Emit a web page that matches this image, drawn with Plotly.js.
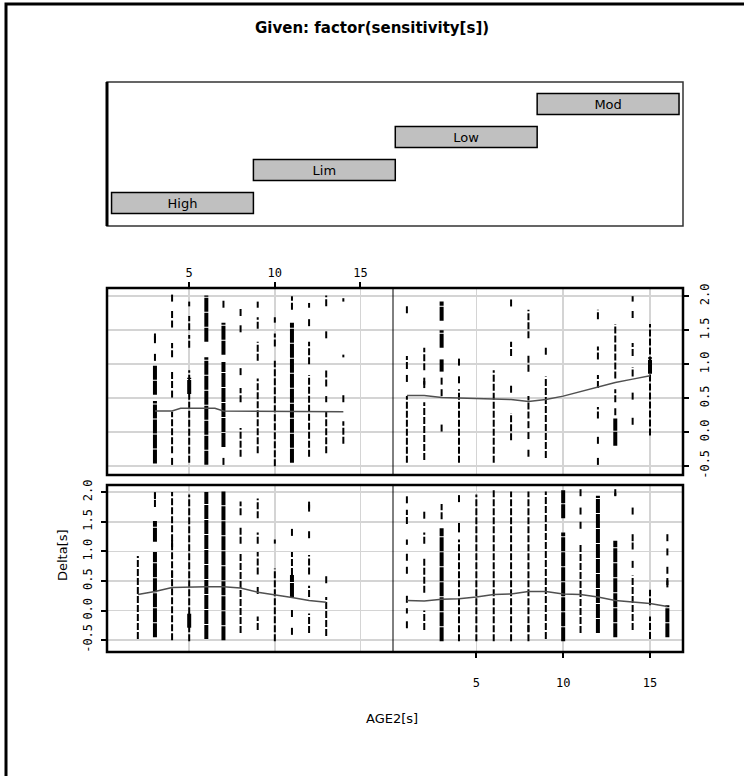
<!DOCTYPE html>
<html><head><meta charset="utf-8">
<script src="https://cdn.plot.ly/plotly-3.0.1.min.js"></script>
<style>html,body{margin:0;padding:0;background:#fff}#chart{width:744px;height:776px}</style>
</head><body><div id="chart"></div>
<script>
// ---------- data ----------
const givenLevels = ['High', 'Lim', 'Low', 'Mod'];
const givenLow  = [0.5, 1.5, 2.5, 3.5];
const givenHigh = [1.5, 2.5, 3.5, 4.5];

const xTicks = [5, 10, 15];
const yTicks = [-0.5, 0, 0.5, 1, 1.5, 2];
const yTickText = ['-0.5', '0.0', '0.5', '1.0', '1.5', '2.0'];

// runs of points: [AGE2, Delta from, Delta to]
const lowDense = [[3,0.55,0.98],[3,-0.46,0.46],[5,0.56,0.80],[6,1.33,2.01],[6,-0.48,1.10],[7,1.14,1.61],[7,-0.22,1.03],[11,-0.45,1.61]];
const lowThin = [[4,1.92,2.04],[4,1.10,1.31],[4,0.65,0.89],[4,-0.31,0.30],[5,1.85,1.92],[5,1.50,1.71],[5,1.24,1.43],[5,-0.45,0.91],
  [7,1.83,1.94],[8,0.44,0.65],[8,-0.36,0.06],[9,1.83,1.92],[9,1.52,1.69],[9,1.05,1.33],[9,-0.31,0.79],[10,1.61,1.69],[10,1.26,1.45],
  [10,-0.50,1.05],[11,1.80,2.0],[12,1.83,1.90],[12,1.00,1.33],[12,-0.36,0.84],[13,1.85,2.01],[13,1.38,1.50],[13,0.67,0.91],[13,0.44,0.53],
  [13,-0.31,0.30],[14,1.92,1.97],[14,1.10,1.14],[14,0.44,0.56],[14,-0.17,0.16]];
const lowPts = [[3,1.40],[3,1.36],[3,1.10],[4,1.73],[4,1.59],[4,0.56],[4,-0.43],[7,-0.43],[8,1.76],[8,1.52],[8,0.89],[12,1.61]];
const lowSmoothX = [3,4,4.5,5,6,6.5,7,8,9,10,11,12,13,14];
const lowSmoothY = [0.31,0.31,0.35,0.35,0.35,0.35,0.31,0.31,0.31,0.31,0.31,0.30,0.30,0.30];

const modDense = [[3,1.64,1.92],[3,1.24,1.50],[3,0.89,1.07],[13,-0.20,0.20],[15,0.86,1.10]];
const modThin = [[1,0.93,1.12],[1,-0.45,0.53],[2,0.91,1.24],[2,-0.41,0.44],[4,-0.45,0.63],[6,-0.45,0.91],[7,1.12,1.33],[7,0.58,0.70],
  [7,-0.12,0.28],[8,1.38,1.80],[8,0.89,1.14],[8,0.20,0.53],[9,-0.38,0.82],[12,1.66,1.80],[12,1.07,1.26],[12,0.65,0.84],[12,0.20,0.37],
  [13,0.79,1.59],[13,0.44,0.63],[14,1.92,2.0],[14,1.12,1.31],[14,0.82,0.96],[15,-0.05,1.59]];
const modPts = [[1,1.80],[1,0.79],[2,0.75],[2,0.70],[3,0.75],[3,0.58],[3,0.06],[4,1.03],[4,0.77],[7,1.90],[8,-0.31],[8,-0.05],[8,0.11],
  [9,1.19],[12,-0.12],[12,-0.43],[13,0.30],[14,1.73],[14,0.53],[14,0.16]];
const modSmoothX = [1,2,3,4,5,6,7,8,9,10,11,12,13,14,15];
const modSmoothY = [0.54,0.54,0.51,0.50,0.49,0.48,0.48,0.45,0.48,0.53,0.60,0.66,0.73,0.78,0.83];

const highDense = [[3,1.16,1.51],[3,-0.45,0.99],[5,-0.29,-0.05],[6,-0.48,2.0],[7,-0.50,2.01],[11,0.23,0.60]];
const highThin = [[2,-0.48,0.92],[3,1.75,1.99],[4,-0.50,2.0],[5,-0.52,1.96],[8,1.61,1.84],[8,1.13,1.42],[8,-0.38,0.99],[9,1.56,1.89],
  [9,1.13,1.32],[9,0.61,0.99],[9,0.28,0.42],[9,-0.33,-0.10],[10,1.13,1.20],[10,-0.52,0.71],[11,0.60,0.99],[11,-0.41,-0.29],
  [12,0.61,0.94],[12,0.23,0.42],[12,-0.38,-0.05],[13,-0.43,0.23]];
const highPts = [[3,1.94],[11,1.32],[11,-0.05],[12,1.78],[12,1.73],[12,1.28],[13,0.52],[4,1.13],[4,0.61]];
const highSmoothX = [2,3,4,5,6,7,8,9,10,11,12,13];
const highSmoothY = [0.27,0.32,0.39,0.40,0.40,0.40,0.38,0.31,0.27,0.22,0.17,0.14];

const limDense = [[3,-0.52,1.39],[10,1.56,2.03],[10,-0.52,1.32],[12,-0.38,1.94],[13,-0.45,1.18],[16,-0.45,0.09]];
const limThin = [[1,1.46,1.70],[1,1.11,1.20],[1,-0.05,0.04],[2,1.13,1.32],[2,0.30,0.90],[2,-0.33,0.0],[3,1.54,1.80],[4,1.32,1.39],
  [4,-0.52,1.20],[5,-0.52,1.96],[6,-0.52,2.04],[7,-0.52,2.01],[8,-0.52,2.01],[9,-0.48,2.01],[11,-0.38,1.13],[14,-0.33,0.59],
  [15,-0.48,-0.10],[15,0.09,0.35],[13,1.94,1.99]];
const limPts = [[1,1.87],[1,0.90],[1,0.68],[1,0.19],[1,-0.24],[2,1.61],[4,1.89],[4,1.42],[11,1.99],[11,1.68],[11,1.44],[13,1.99],
  [14,1.68],[14,1.23],[14,1.09],[14,0.78],[16,1.23],[16,0.99],[16,0.68],[16,0.49],[16,0.45],[8,-0.30]];
const limSmoothX = [1,2,3,4,5,6,7,8,9,10,11,12,13,14,15,16];
const limSmoothY = [0.17,0.16,0.19,0.20,0.23,0.27,0.28,0.32,0.32,0.28,0.27,0.23,0.17,0.14,0.12,0.07];

// ---------- layout helpers ----------
const W = 744, H = 776;
const px = v => v / W, py = v => 1 - v / H;
const xL = [px(107), px(393)], xR = [px(393), px(683)];
const yT = [py(475), py(288)], yB = [py(652), py(485)];

function runs(arr, xa, ya, width, dash) {
  const x = [], y = [];
  arr.forEach(r => { x.push(r[0], r[0], null); y.push(r[1], r[2], null); });
  return {type: 'scatter', mode: 'lines', x, y, xaxis: xa, yaxis: ya, hoverinfo: 'skip',
          line: {color: '#000', width: width, dash: dash || 'solid'}, showlegend: false};
}
function pts(arr, xa, ya) {
  return {type: 'scatter', mode: 'markers', x: arr.map(p => p[0]), y: arr.map(p => p[1]), xaxis: xa, yaxis: ya,
          marker: {symbol: 'line-ns', size: 5, line: {width: 2, color: '#000'}}, showlegend: false};
}
function smooth(sx, sy, xa, ya) {
  return {type: 'scatter', mode: 'lines', x: sx, y: sy, xaxis: xa, yaxis: ya,
          line: {color: '#505050', width: 1.5}, showlegend: false};
}
function panel(dense, thin, p, sx, sy, xa, ya) {
  return [runs(thin, xa, ya, 2, '7px,2px'), runs(dense, xa, ya, 4, '14px,1px'), pts(p, xa, ya), smooth(sx, sy, xa, ya)];
}

const traces = [].concat(
  panel(lowDense, lowThin, lowPts, lowSmoothX, lowSmoothY, 'x', 'y'),
  panel(modDense, modThin, modPts, modSmoothX, modSmoothY, 'x2', 'y2'),
  panel(highDense, highThin, highPts, highSmoothX, highSmoothY, 'x3', 'y3'),
  panel(limDense, limThin, limPts, limSmoothX, limSmoothY, 'x4', 'y4'),
  [{type: 'bar', orientation: 'h', y: givenLevels.map((l, i) => i + 1),
    x: givenHigh.map((h, i) => h - givenLow[i]), base: givenLow, width: 0.64,
    xaxis: 'x5', yaxis: 'y5', text: givenLevels, textposition: 'inside', insidetextanchor: 'middle',
    textfont: {family: 'DejaVu Sans', size: 13, color: '#000'}, hoverinfo: 'skip',
    marker: {color: '#c0c0c0', line: {color: '#000', width: 1.5}}, showlegend: false}]
);

const tickFont = {family: 'DejaVu Sans Mono', size: 12, color: '#000'};
const xRange = [0.2, 16.9];
function xax(dom, anchor, show, side, standoff) {
  return {domain: dom, anchor: anchor, range: xRange, tickvals: xTicks, ticktext: xTicks.map(String),
    showgrid: true, gridcolor: '#d4d4d4', gridwidth: 1.6, zeroline: false, showline: false,
    ticks: show ? 'outside' : '', ticklen: 5, tickwidth: 2, tickcolor: '#000', ticklabelstandoff: standoff || 0,
    showticklabels: show, side: side || 'bottom', tickfont: tickFont, fixedrange: true};
}
function yax(dom, anchor, rng, show, side, standoff) {
  return {domain: dom, anchor: anchor, range: rng, tickvals: yTicks, ticktext: yTickText,
    showgrid: true, gridcolor: '#d4d4d4', gridwidth: 1.6, zeroline: false, showline: false,
    ticks: show ? 'outside' : '', ticklen: 5, tickwidth: 2, tickcolor: '#000', ticklabelstandoff: standoff || 0,
    showticklabels: show, side: side || 'left', tickangle: -90, tickfont: tickFont, fixedrange: true};
}
const yRangeTop = [-0.63, 2.12], yRangeBottom = [-0.7, 2.12];

const layout = {
  width: W, height: H, margin: {l: 0, r: 0, t: 0, b: 0}, paper_bgcolor: '#fff', plot_bgcolor: '#fff',
  showlegend: false,
  xaxis: xax(xL, 'y', true, 'top', 0),
  yaxis: yax(yT, 'x', yRangeTop, false),
  xaxis2: xax(xR, 'y2', false),
  yaxis2: yax(yT, 'x2', yRangeTop, true, 'right', 6),
  xaxis3: xax(xL, 'y3', false),
  yaxis3: yax(yB, 'x3', yRangeBottom, true, 'left', 4),
  xaxis4: xax(xR, 'y4', true, 'bottom', 15),
  yaxis4: yax(yB, 'x4', yRangeBottom, false),
  xaxis5: {domain: [px(107), px(683)], anchor: 'y5', range: [0.468, 4.528], visible: false, fixedrange: true},
  yaxis5: {domain: [py(226), py(82)], anchor: 'x5', range: [0.303, 4.667], visible: false, fixedrange: true},
  shapes: [
    {type: 'rect', xref: 'paper', yref: 'paper', x0: px(6), x1: px(770), y0: py(4), y1: py(810), line: {color: '#000', width: 3}},
    {type: 'rect', xref: 'x5 domain', yref: 'y5 domain', x0: 0, x1: 1, y0: 0, y1: 1, line: {color: '#333', width: 1.5}},
    {type: 'line', xref: 'x5 domain', yref: 'y5 domain', x0: 0, x1: 0, y0: 0, y1: 1, line: {color: '#000', width: 3}},
    {type: 'rect', xref: 'paper', yref: 'paper', x0: xL[0], x1: xR[1], y0: yT[0], y1: yT[1], line: {color: '#000', width: 2.5}},
    {type: 'rect', xref: 'paper', yref: 'paper', x0: xL[0], x1: xR[1], y0: yB[0], y1: yB[1], line: {color: '#000', width: 2.5}},
    {type: 'line', xref: 'paper', yref: 'paper', x0: xL[1], x1: xL[1], y0: yT[0], y1: yT[1], line: {color: '#000', width: 1}},
    {type: 'line', xref: 'paper', yref: 'paper', x0: xL[1], x1: xL[1], y0: yB[0], y1: yB[1], line: {color: '#000', width: 1}}
  ],
  annotations: [
    {text: '<b>Given: factor(sensitivity[s])</b>', xref: 'paper', yref: 'paper', x: px(372), y: py(28),
     xanchor: 'center', yanchor: 'middle', showarrow: false, font: {family: 'DejaVu Sans', size: 15, color: '#000'}},
    {text: 'Delta[s]', xref: 'paper', yref: 'paper', x: px(62), y: py(555), textangle: -90,
     xanchor: 'center', yanchor: 'middle', showarrow: false, font: {family: 'DejaVu Sans', size: 13, color: '#000'}},
    {text: 'AGE2[s]', xref: 'paper', yref: 'paper', x: px(392), y: py(718),
     xanchor: 'center', yanchor: 'middle', showarrow: false, font: {family: 'DejaVu Sans', size: 13, color: '#000'}}
  ]
};

Plotly.newPlot('chart', traces, layout, {staticPlot: true, displayModeBar: false});
</script></body></html>
